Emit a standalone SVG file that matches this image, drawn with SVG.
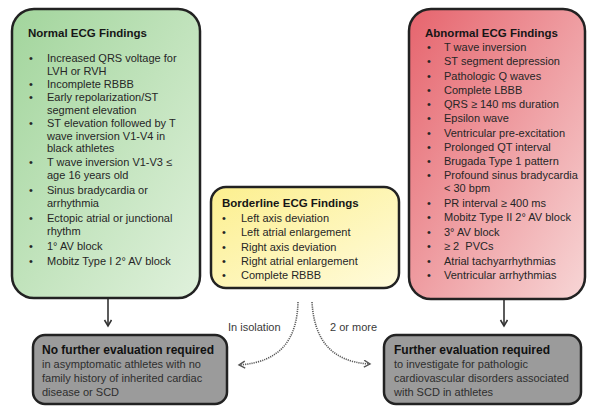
<svg xmlns="http://www.w3.org/2000/svg" width="589" height="407" viewBox="0 0 589 407">
<defs>
<linearGradient id="gGreen" x1="0" y1="0" x2="1" y2="1">
<stop offset="0" stop-color="#a2d59c"/>
<stop offset="1" stop-color="#e0f1dc"/>
</linearGradient>
<linearGradient id="gRed" x1="0" y1="0" x2="1" y2="1">
<stop offset="0" stop-color="#e6646d"/>
<stop offset="1" stop-color="#f7d6d6"/>
</linearGradient>
<linearGradient id="gYellow" x1="0" y1="0" x2="1" y2="1">
<stop offset="0" stop-color="#fcef8e"/>
<stop offset="1" stop-color="#fffbdc"/>
</linearGradient>
<marker id="arr" markerWidth="10" markerHeight="10" refX="7" refY="4" orient="auto" markerUnits="userSpaceOnUse">
<path d="M1,0.5 L7,4 L1,7.5" fill="none" stroke="#333" stroke-width="1.6"/>
</marker>
<marker id="arrDot" markerWidth="10" markerHeight="10" refX="7" refY="4" orient="auto" markerUnits="userSpaceOnUse">
<path d="M1,0.5 L7,4 L1,7.5" fill="none" stroke="#555" stroke-width="1.4"/>
</marker>
</defs>
<style>
.box{stroke:#222;stroke-width:2.5}
text{font-family:"Liberation Sans",Arial,sans-serif;font-size:11px;fill:#262626}
.t{font-weight:bold;font-size:11.5px;fill:#161616}
.tg{font-weight:bold;font-size:12px;fill:#111}
.sub{fill:#2e2e2e}
.lbl{fill:#3a3a3a}
.solid{fill:none;stroke:#333;stroke-width:1.6}
.dot{fill:none;stroke:#5a5a5a;stroke-width:1.6;stroke-dasharray:1.2 1}
</style>
<rect width="589" height="407" fill="#ffffff"/>

<g id="connectors">
<line class="solid" x1="108" y1="299" x2="108" y2="326" marker-end="url(#arr)"/>
<line class="solid" x1="504" y1="300" x2="504" y2="326" marker-end="url(#arr)"/>
<path class="dot" d="M298,302 C297,338 282,362 239,365" marker-end="url(#arrDot)"/>
<path class="dot" d="M312,302 C314,338 330,362 370,364" marker-end="url(#arrDot)"/>
<text class="lbl" x="228" y="331">In isolation</text>
<text class="lbl" x="330" y="331">2 or more</text>
</g>

<g id="normal">
<rect class="box" x="12" y="9" width="188" height="289" rx="22" fill="url(#gGreen)"/>
<text class="t" x="28" y="37">Normal ECG Findings</text>
<text x="29" y="62">•</text><text x="47" y="62">Increased QRS voltage for</text>
<text x="47" y="75">LVH or RVH</text>
<text x="29" y="88">•</text><text x="47" y="88">Incomplete RBBB</text>
<text x="29" y="101">•</text><text x="47" y="101">Early repolarization/ST</text>
<text x="47" y="114">segment elevation</text>
<text x="29" y="127">•</text><text x="47" y="127">ST elevation followed by T</text>
<text x="47" y="140">wave inversion V1-V4 in</text>
<text x="47" y="152">black athletes</text>
<text x="29" y="166">•</text><text x="47" y="166">T wave inversion V1-V3 ≤</text>
<text x="47" y="179">age 16 years old</text>
<text x="29" y="194">•</text><text x="47" y="194">Sinus bradycardia or</text>
<text x="47" y="207">arrhythmia</text>
<text x="29" y="222">•</text><text x="47" y="222">Ectopic atrial or junctional</text>
<text x="47" y="235">rhythm</text>
<text x="29" y="250">•</text><text x="47" y="250">1° AV block</text>
<text x="29" y="265">•</text><text x="47" y="265">Mobitz Type I 2° AV block</text>
</g>

<g id="borderline">
<rect class="box" x="211" y="187" width="188" height="101" rx="15" fill="url(#gYellow)"/>
<text class="t" x="222" y="207">Borderline ECG Findings</text>
<text x="222" y="222">•</text><text x="241" y="222">Left axis deviation</text>
<text x="222" y="236">•</text><text x="241" y="236">Left atrial enlargement</text>
<text x="222" y="251">•</text><text x="241" y="251">Right axis deviation</text>
<text x="222" y="265">•</text><text x="241" y="265">Right atrial enlargement</text>
<text x="222" y="279">•</text><text x="241" y="279">Complete RBBB</text>
</g>

<g id="abnormal">
<rect class="box" x="409" y="9" width="176" height="290" rx="22" fill="url(#gRed)"/>
<text class="t" x="425" y="37">Abnormal ECG Findings</text>
<text x="427" y="51">•</text><text x="444" y="51">T wave inversion</text>
<text x="427" y="65">•</text><text x="444" y="65">ST segment depression</text>
<text x="427" y="80">•</text><text x="444" y="80">Pathologic Q waves</text>
<text x="427" y="94">•</text><text x="444" y="94">Complete LBBB</text>
<text x="427" y="108">•</text><text x="444" y="108">QRS ≥ 140 ms duration</text>
<text x="427" y="122">•</text><text x="444" y="122">Epsilon wave</text>
<text x="427" y="137">•</text><text x="444" y="137">Ventricular pre-excitation</text>
<text x="427" y="151">•</text><text x="444" y="151">Prolonged QT interval</text>
<text x="427" y="165">•</text><text x="444" y="165">Brugada Type 1 pattern</text>
<text x="427" y="179">•</text><text x="444" y="179">Profound sinus bradycardia</text>
<text x="444" y="192">&lt; 30 bpm</text>
<text x="427" y="207">•</text><text x="444" y="207">PR interval ≥ 400 ms</text>
<text x="427" y="221">•</text><text x="444" y="221">Mobitz Type II 2° AV block</text>
<text x="427" y="236">•</text><text x="444" y="236">3° AV block</text>
<text x="427" y="250">•</text><text x="444" y="250" xml:space="preserve">≥ 2  PVCs</text>
<text x="427" y="265">•</text><text x="444" y="265">Atrial tachyarrhythmias</text>
<text x="427" y="279">•</text><text x="444" y="279">Ventricular arrhythmias</text>
</g>

<g id="no-further">
<rect class="box" x="33" y="335" width="194" height="69" rx="12" fill="#9b9b9b"/>
<text class="tg" x="42" y="354">No further evaluation required</text>
<text class="sub" x="42" y="368">in asymptomatic athletes with no</text>
<text class="sub" x="42" y="382">family history of inherited cardiac</text>
<text class="sub" x="42" y="396">disease or SCD</text>
</g>

<g id="further">
<rect class="box" x="384" y="335" width="197" height="69" rx="12" fill="#9b9b9b"/>
<text class="tg" x="394" y="354">Further evaluation required</text>
<text class="sub" x="394" y="368">to investigate for pathologic</text>
<text class="sub" x="394" y="382">cardiovascular disorders associated</text>
<text class="sub" x="394" y="396">with SCD in athletes</text>
</g>
</svg>
